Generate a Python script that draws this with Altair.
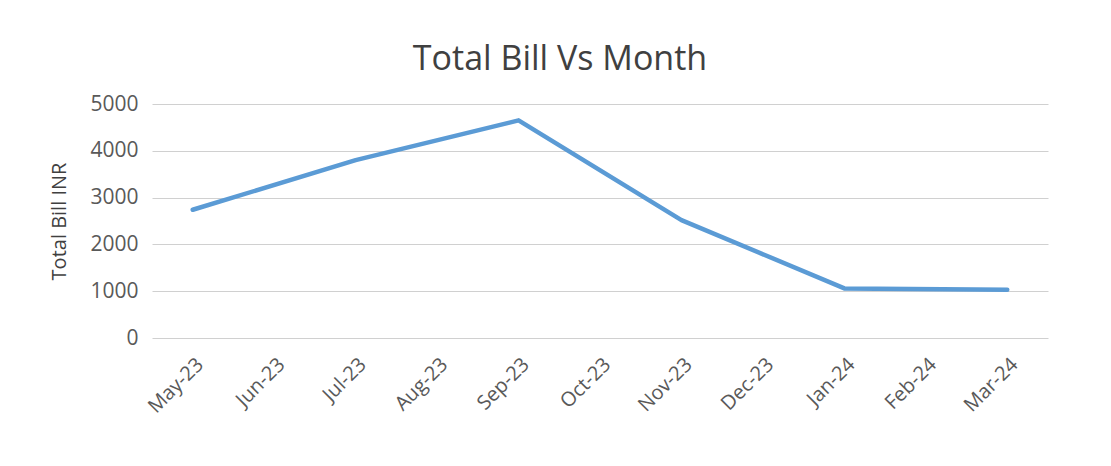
import altair as alt
import pandas as pd

months = ["May-23", "Jun-23", "Jul-23", "Aug-23", "Sep-23", "Oct-23",
          "Nov-23", "Dec-23", "Jan-24", "Feb-24", "Mar-24"]
bill_months = ["May-23", "Jul-23", "Sep-23", "Nov-23", "Jan-24", "Mar-24"]
bill_values = [2740, 3800, 4650, 2520, 1060, 1030]
y_ticks = [0, 1000, 2000, 3000, 4000, 5000]

df = pd.DataFrame({"Month": bill_months, "Bill": bill_values})

FONT = "Open Sans"

chart = alt.Chart(df).mark_line(
    color="#5B9BD5", strokeWidth=4.5, strokeCap="round", strokeJoin="round"
).encode(
    x=alt.X("Month:O",
            scale=alt.Scale(domain=months, padding=0.5),
            axis=alt.Axis(title=None, labelAngle=-45, labelFontSize=20,
                          labelColor="#595959", labelFont=FONT,
                          ticks=False, domain=False, grid=False,
                          labelPadding=16)),
    y=alt.Y("Bill:Q",
            scale=alt.Scale(domain=[0, 5000], nice=False),
            axis=alt.Axis(values=y_ticks, format="d", title="Total Bill INR",
                          titleFontSize=20, titleColor="#404040",
                          titleFont=FONT, titleFontWeight="normal",
                          titlePadding=20, labelFontSize=21,
                          labelColor="#595959", labelFont=FONT,
                          labelPadding=14, domain=False, ticks=False,
                          grid=True, gridColor="#d0d0d0", gridWidth=1)),
).properties(
    width=896,
    height=234,
    background="white",
    autosize=alt.AutoSizeParams(type="none"),
    padding={"left": 144, "top": 96, "right": 55, "bottom": 120},
    title=alt.TitleParams(text="Total Bill Vs Month", fontSize=34, font=FONT,
                          fontWeight="normal", color="#404040",
                          anchor="middle", dx=-40, offset=16),
).configure_view(stroke=None, strokeWidth=0)

chart.save("out.html", embed_options={"renderer": "svg", "actions": False})
